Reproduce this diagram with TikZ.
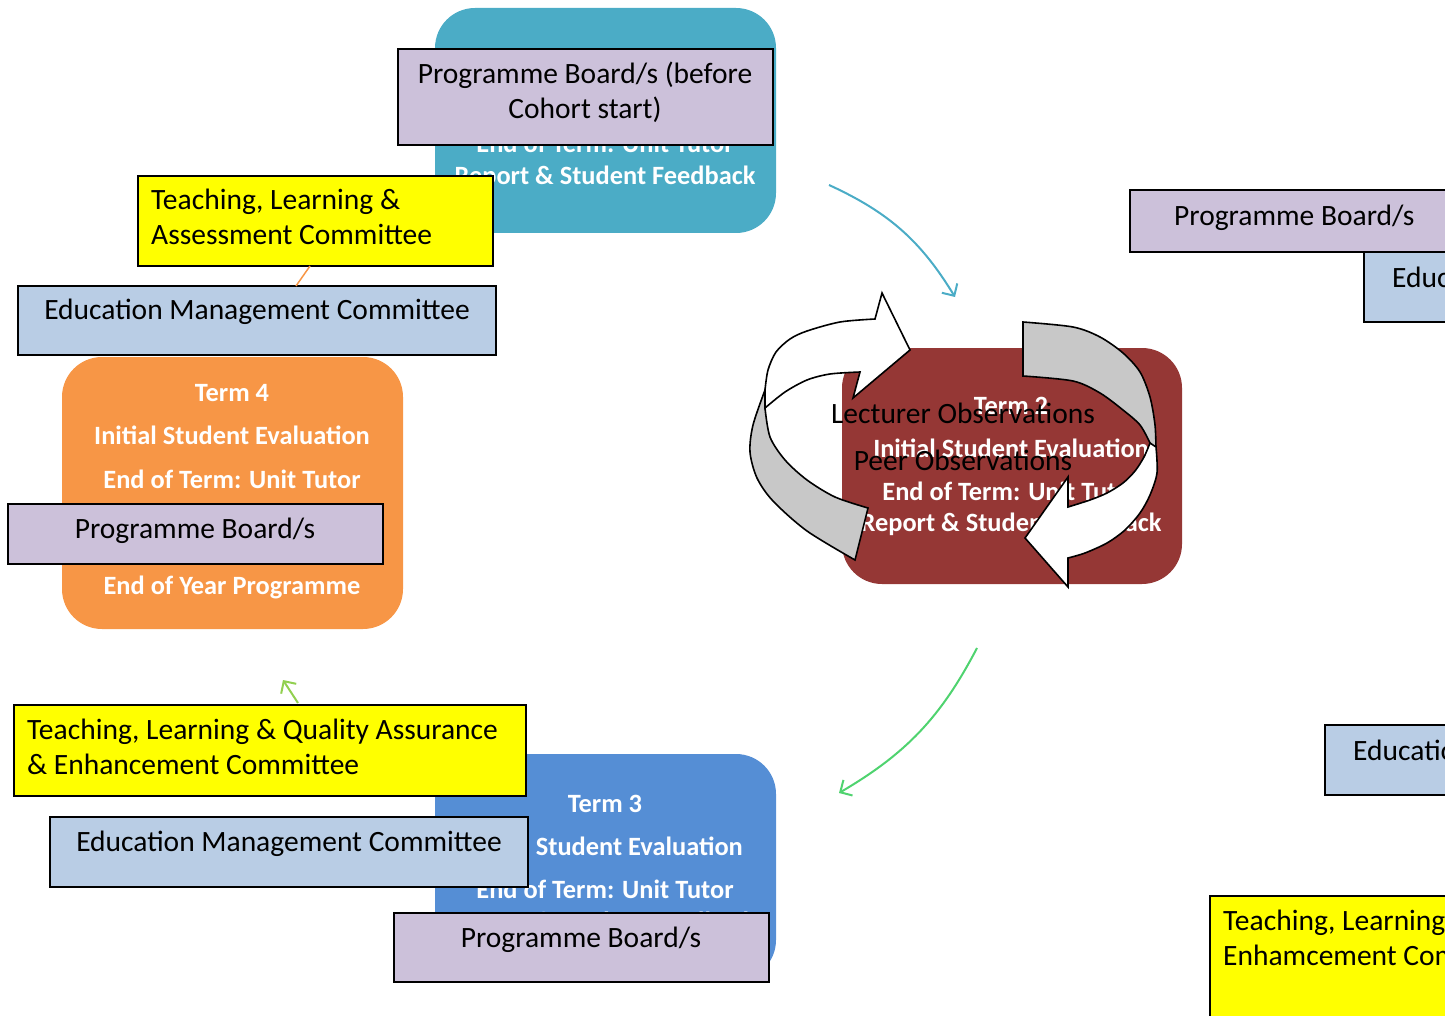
\documentclass[tikz,border=0pt]{standalone}
\usepackage{fontspec}
\setmainfont{Carlito}
\usetikzlibrary{arrows.meta}
\definecolor{tealc}{HTML}{4BACC6}
\definecolor{orangec}{HTML}{F79646}
\definecolor{redc}{HTML}{953735}
\definecolor{bluec}{HTML}{558ED5}
\definecolor{purpc}{HTML}{CCC1DA}
\definecolor{lbluec}{HTML}{B9CDE5}
\definecolor{yellc}{HTML}{FFFF00}
\definecolor{grayc}{HTML}{C8C8C8}
\definecolor{greenc}{HTML}{4FD36F}
\definecolor{lgreenc}{HTML}{92D050}
\begin{document}
\begin{tikzpicture}[x=1pt,y=-1pt,
  termbox/.style={draw=none, rounded corners=40pt, inner sep=0pt},
  wt/.style={text=white, font=\fontsize{26.4}{30}\selectfont\bfseries, inner sep=0pt, anchor=base},
  bt/.style={text=black, font=\fontsize{29.5}{35}\selectfont, inner sep=0pt, anchor=base},
  btl/.style={bt, anchor=base west},
  pbox/.style={draw=black, line width=1.8pt, fill=purpc, inner sep=0pt},
  ebox/.style={draw=black, line width=1.8pt, fill=lbluec, inner sep=0pt},
  ybox/.style={draw=black, line width=1.8pt, fill=yellc, inner sep=0pt},
  band/.style={draw=black, line width=1.6pt, line join=miter},
  conn/.style={line width=2pt, -{Straight Barb[length=9pt,width=18pt,line width=2pt]}}
]
\useasboundingbox (0,0) rectangle (1445,1016);
\clip (0,0) rectangle (1445,1016);

% ---- Term boxes
\node[termbox, fill=tealc, minimum width=341pt, minimum height=225pt] (t1) at (605.5,120.5) {};
\node[termbox, fill=orangec, minimum width=341pt, minimum height=272pt] (t4) at (232.5,493) {};
\node[termbox, fill=redc, minimum width=340pt, minimum height=236pt] (t2) at (1012,466) {};
\node[termbox, fill=bluec, minimum width=341pt, minimum height=226pt] (t3) at (605.5,867) {};

% ---- white texts
\node[wt] (t1c) at (605,153) {End of Term: Unit Tutor};
\node[wt] (t1d) at (605,185) {Report \& Student Feedback};
\node[wt] (t4a) at (232,401) {Term 4};
\node[wt] (t4b) at (232,444) {Initial Student Evaluation};
\node[wt] (t4c) at (232,488) {End of Term: Unit Tutor};
\node[wt] (t4d) at (232,523) {Report \& Student};
\node[wt] (t4e) at (232,594) {End of Year Programme};
\node[wt] (t2a) at (1011,414) {Term 2};
\node[wt] (t2b) at (1011,457) {Initial Student Evaluation};
\node[wt] (t2c) at (1011,500) {End of Term: Unit Tutor};
\node[wt] (t2d) at (1011,531) {Report \& Student Feedback};
\node[wt] (t3a) at (605,812) {Term 3};
\node[wt] (t3b) at (605,855) {Initial Student Evaluation};
\node[wt] (t3c) at (605,898) {End of Term: Unit Tutor};
\node[wt] (t3d) at (605,930) {Report \& Student Feedback};

% ---- overlay boxes
\node[pbox, minimum width=375pt, minimum height=96pt] (pb1) at (585.5,97) {};
\node[bt] (pb1a) at (585,83.5) {Programme Board/s (before};
\node[bt] (pb1b) at (585,118.5) {Cohort start)};

\node[ybox, minimum width=355pt, minimum height=90pt] (tla) at (315.5,221) {};
\node[btl] (tlaa) at (151,209.5) {Teaching, Learning \&};
\node[btl] (tlab) at (151,244.5) {Assessment Committee};

\node[ebox, minimum width=478pt, minimum height=69pt] (emc1) at (257,320.5) {};
\node[bt] (emc1t) at (257,319.5) {Education Management Committee};

\node[pbox, minimum width=375pt, minimum height=60pt] (pb4) at (195.5,534) {};
\node[bt] (pb4t) at (195,538.5) {Programme Board/s};

\node[ybox, minimum width=512pt, minimum height=91pt] (tlq) at (270,750.5) {};
\node[btl] (tlqa) at (27,739.5) {Teaching, Learning \& Quality Assurance};
\node[btl] (tlqb) at (27,774.5) {\& Enhancement Committee};

\node[ebox, minimum width=478pt, minimum height=70pt] (emc3) at (289,852) {};
\node[bt] (emc3t) at (289,851.5) {Education Management Committee};

\node[pbox, minimum width=375pt, minimum height=69pt] (pb3) at (581.5,947.5) {};
\node[bt] (pb3t) at (581,947.5) {Programme Board/s};

% ---- right side (cut off)
\node[pbox, minimum width=375pt, minimum height=62pt] (pbr) at (1317.5,221) {};
\node[btl] (pbrt) at (1174,225.5) {Programme Board/s};
\node[ebox, minimum width=478pt, minimum height=70pt] (emr1) at (1603,287) {};
\node[btl] (emr1t) at (1392,287.5) {Education Management Committee};
\node[ebox, minimum width=478pt, minimum height=70pt] (emr2) at (1564,760) {};
\node[btl] (emr2t) at (1353,760.5) {Education Management Committee};
\node[ybox, minimum width=355pt, minimum height=126pt] (ybr) at (1387.5,959) {};
\node[btl] (ybra) at (1223,930.5) {Teaching, Learning \& Quality};
\node[btl] (ybrb) at (1223,965.5) {Enhamcement Committee};

% ---- circular arrows
\draw[band, fill=grayc]
  plot[smooth] coordinates {(765,390) (753,425) (750,452) (757,478) (773,501) (807,531) (855,560)}
  -- (868,508)
  -- plot[smooth] coordinates {(868,508) (835,497) (807,480) (785,460) (770,437) (765,408)}
  -- cycle;
\draw[band, fill=white]
  plot[smooth] coordinates {(765,390) (768,370) (776,352) (790,339) (807,331) (840,322) (875,319)}
  -- (882,293) -- (910,350) -- (853,398) -- (860,372)
  -- plot[smooth] coordinates {(860,372) (830,374) (807,380) (785,392) (765,408)}
  -- cycle;
\draw[band, fill=grayc]
  plot[smooth] coordinates {(1023,322) (1073,327) (1100,337) (1123,353) (1140,372) (1150,397) (1155,425) (1156,450)}
  -- plot[smooth] coordinates {(1150,443) (1140,425) (1123,410) (1100,393) (1073,381) (1023,376)}
  -- cycle;
\draw[band, fill=white]
  plot[smooth] coordinates {(1156,447) (1157,473) (1150,495) (1140,513) (1125,530) (1107,543) (1085,553) (1068,558)}
  -- (1068,587) -- (1025,538) -- (1068,477) -- (1068,507)
  -- plot[smooth] coordinates {(1068,507) (1090,500) (1107,493) (1123,483) (1135,471) (1144,457) (1150,443)}
  -- cycle;

\node[bt] (lect) at (963,423) {Lecturer Observations};
\node[bt] (peer) at (963,470) {Peer Observations};

% ---- connectors
\coordinate (ta1) at (829,185);
\coordinate (ta2) at (955,297);
\draw[conn, tealc] (ta1) to[bend left=17] (ta2);
\coordinate (ga1) at (977,648);
\coordinate (ga2) at (839,793);
\draw[conn, greenc] (ga1) to[bend left=16] (ga2);
\coordinate (sg1) at (298,703);
\coordinate (sg2) at (283,680);
\draw[conn, lgreenc] (sg1) -- (sg2);
\coordinate (ol1) at (310,266);
\coordinate (ol2) at (296,286);
\draw[orangec, line width=1.5pt] (ol1) -- (ol2);
\end{tikzpicture}
\end{document}
